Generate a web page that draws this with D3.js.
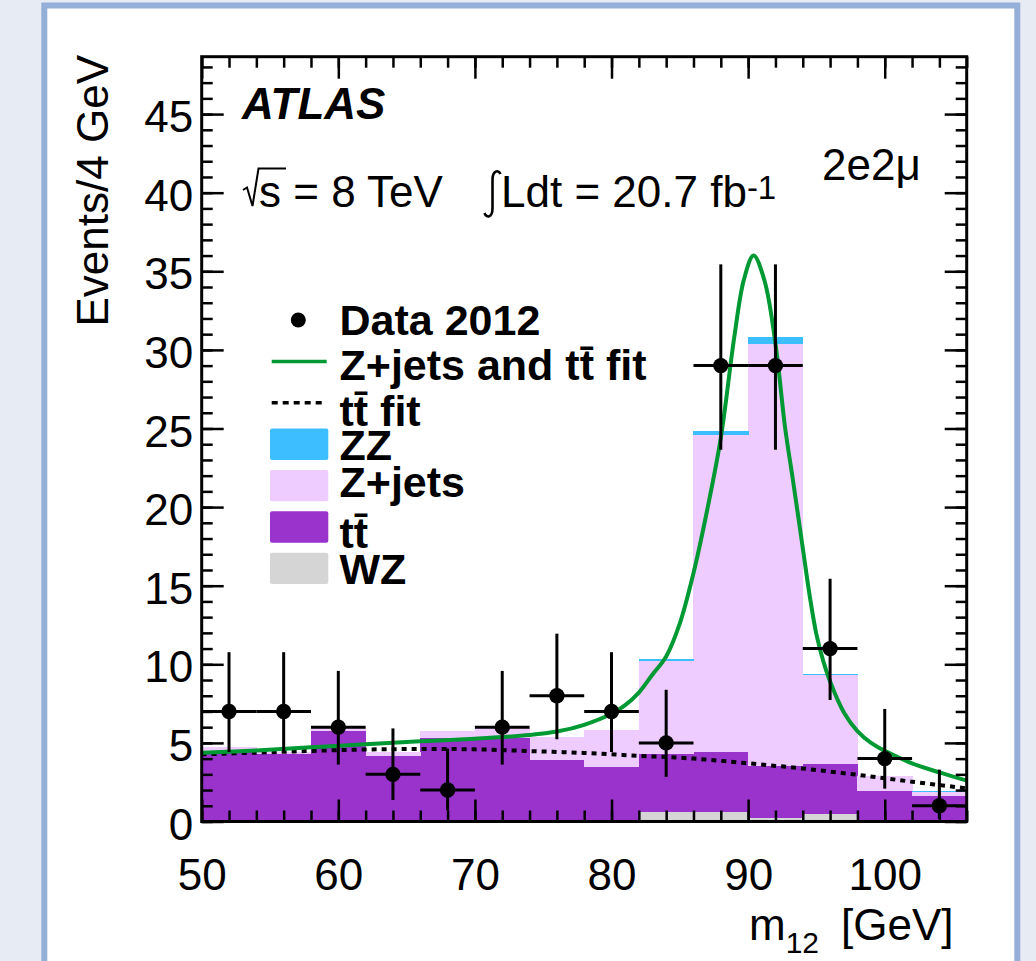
<!DOCTYPE html>
<html><head><meta charset="utf-8">
<script src="https://cdn.jsdelivr.net/npm/d3@7"></script>
<style>
html,body{margin:0;padding:0;background:#e7ebf3;overflow:hidden;}
svg{display:block;}
text{font-family:"Liberation Sans",Arial,Helvetica,sans-serif;}
</style></head><body>
<svg id="c" width="1036" height="961"></svg>
<script>
// ---------------- data ----------------
const binLow = [50,54,58,62,66,70,74,78,82,86,90,94,98,102];
const binWidth = 4;
const wz    = [0,0,0,0,0,0,0,0.08,0.58,0.58,0.25,0.48,0,0];
const ttbar = [4.5,4.3,5.75,4.15,5.3,5.3,3.9,3.37,3.72,3.82,3.27,3.18,1.95,1.64];
const zjets = [0.25,0.15,0.3,0.3,0.45,0.65,1.45,2.37,5.92,20.17,26.88,5.66,0.92,0.26];
const zz    = [0,0,0,0,0,0,0,0,0.1,0.28,0.42,0.06,0.04,0.02];

const dataX = [52,56,60,64,68,72,76,80,84,88,92,96,100,104];
const dataY = [7,7,6,3,2,6,8,7,5,29,29,11,4,1];
const dataErrLow  = [2.58,2.58,2.38,1.63,1.29,2.38,2.77,2.58,2.16,5.35,5.35,3.27,1.91,0.83];
const dataErrHigh = [3.77,3.77,3.58,2.92,2.64,3.58,3.95,3.77,3.38,6.44,6.44,4.44,3.16,2.30];

const fitMass  = [50,54,58,62,66,70,74,76,78,80,81,82,83,84,85,86,87,88,89,89.7,90.4,91.2,92,92.7,93.3,94,94.5,95,95.5,96,97,98,99,100,102,104,106];
const fitTotal = [4.37,4.52,4.72,4.91,5.1,5.27,5.5,5.72,6.15,6.85,7.4,8.2,9.35,10.5,12.6,15.8,19.8,24.4,30.9,34.5,36.0,34.4,30.4,25.1,21.6,17.4,14.4,11.9,10.2,8.9,6.95,5.75,5.0,4.5,3.7,3.12,2.6];

const ttFitMass  = [50,54,58,62,66,70,74,78,82,86,90,94,98,102,106];
const ttFitValue = [4.27,4.38,4.49,4.58,4.61,4.59,4.48,4.36,4.18,4.0,3.7,3.37,2.97,2.53,2.11];

const xTickLabels = [50,60,70,80,90,100];
const yTickLabels = [0,5,10,15,20,25,30,35,40,45];

const legendLabels = ["Data 2012","Z+jets and tt\u0304 fit","tt\u0304 fit","ZZ","Z+jets","tt\u0304","WZ"];
const legendKinds  = ["marker","line","dotted","box","box","box","box"];
const legendKeys   = [null,null,null,"zz","zjets","ttbar","wz"];

// ---------------- styles ----------------
const colors = {wz:"#d5d5d5", ttbar:"#9933cc", zjets:"#eeccff", zz:"#3dbeff"};
const green = "#009933";
const FONT = 44;

const svg = d3.select("#c");
// outer panel
svg.append("rect").attr("x",44.3).attr("y",5.5).attr("width",973).attr("height",1000)
  .attr("fill","#fff").attr("stroke","#96afd8").attr("stroke-width",6);

const L=201.7, R=966.7, T=56.7, B=821.5;
const x = d3.scaleLinear().domain([50,106]).range([L,R]);
const y = d3.scaleLinear().domain([0,48.65]).range([B,T]);

svg.append("defs").append("clipPath").attr("id","plotclip")
  .append("rect").attr("x",L).attr("y",T).attr("width",R-L).attr("height",B-T);

// stacked histogram
const rows = binLow.map((b,i)=>({lo:b, wz:wz[i], ttbar:ttbar[i], zjets:zjets[i], zz:zz[i]}));
const stack = d3.stack().keys(["wz","ttbar","zjets","zz"])(rows);
const hg = svg.append("g").attr("clip-path","url(#plotclip)").attr("shape-rendering","crispEdges");
stack.forEach(layer=>{
  hg.append("g").attr("fill",colors[layer.key])
    .selectAll("rect").data(layer).join("rect")
    .attr("x",d=>x(d.data.lo)).attr("width",d=>x(d.data.lo+binWidth)-x(d.data.lo)+0.5)
    .attr("y",d=>y(d[1])).attr("height",d=>Math.max(0,y(d[0])-y(d[1])));
});

// fits
const lineGen = d3.line().x(d=>x(d[0])).y(d=>y(d[1])).curve(d3.curveCatmullRom.alpha(0.5));
const cg = svg.append("g").attr("clip-path","url(#plotclip)").attr("fill","none");
cg.append("path").attr("d",lineGen(ttFitMass.map((m,i)=>[m,ttFitValue[i]])))
  .attr("stroke","#000").attr("stroke-width",4).attr("stroke-dasharray","5,5");
cg.append("path").attr("d",lineGen(fitMass.map((m,i)=>[m,fitTotal[i]])))
  .attr("stroke",green).attr("stroke-width",4);

// axes (ticks inward)
function styleAxis(g){ g.select(".domain").remove(); g.selectAll("line").attr("stroke-width",2.5);
  g.attr("font-size",FONT).attr("font-family",'"Liberation Sans",Arial,Helvetica,sans-serif'); }
const xMinor = d3.range(50,107,2), yMinor = d3.range(0,49,1);
svg.append("g").attr("transform",`translate(0,${B})`)
  .call(d3.axisBottom(x).tickValues(xMinor).tickSizeInner(-11).tickSizeOuter(0).tickFormat("")).call(styleAxis);
svg.append("g").attr("transform",`translate(0,${B})`)
  .call(d3.axisBottom(x).tickValues(xTickLabels).tickSizeInner(-22).tickSizeOuter(0).tickPadding(37).tickFormat(d3.format("d"))).call(styleAxis);
svg.append("g").attr("transform",`translate(0,${T})`)
  .call(d3.axisTop(x).tickValues(xMinor).tickSizeInner(-11).tickSizeOuter(0).tickFormat("")).call(styleAxis);
svg.append("g").attr("transform",`translate(0,${T})`)
  .call(d3.axisTop(x).tickValues(xTickLabels).tickSizeInner(-22).tickSizeOuter(0).tickFormat("")).call(styleAxis);
svg.append("g").attr("transform",`translate(${L},0)`)
  .call(d3.axisLeft(y).tickValues(yMinor).tickSizeInner(-11).tickSizeOuter(0).tickFormat("")).call(styleAxis);
const yl = svg.append("g").attr("transform",`translate(${L},0)`)
  .call(d3.axisLeft(y).tickValues(yTickLabels).tickSizeInner(-22).tickSizeOuter(0).tickPadding(8.5).tickFormat(d3.format("d"))).call(styleAxis);
yl.selectAll("text").attr("dy","0.4em");
svg.append("g").attr("transform",`translate(${R},0)`)
  .call(d3.axisRight(y).tickValues(yMinor).tickSizeInner(-11).tickSizeOuter(0).tickFormat("")).call(styleAxis);
svg.append("g").attr("transform",`translate(${R},0)`)
  .call(d3.axisRight(y).tickValues(yTickLabels).tickSizeInner(-22).tickSizeOuter(0).tickFormat("")).call(styleAxis);

// frame
svg.append("rect").attr("x",L).attr("y",T).attr("width",R-L).attr("height",B-T)
  .attr("fill","none").attr("stroke","#000").attr("stroke-width",3);

// data points
const pts = dataX.map((m,i)=>({m, v:dataY[i], lo:dataErrLow[i], hi:dataErrHigh[i]}));
const dg = svg.append("g");
dg.selectAll("line.v").data(pts).join("line").attr("class","v")
  .attr("x1",d=>x(d.m)).attr("x2",d=>x(d.m)).attr("y1",d=>y(d.v-d.lo)).attr("y2",d=>y(d.v+d.hi))
  .attr("stroke","#000").attr("stroke-width",3);
dg.selectAll("line.h").data(pts).join("line").attr("class","h")
  .attr("x1",d=>x(d.m-binWidth/2)).attr("x2",d=>x(d.m+binWidth/2)).attr("y1",d=>y(d.v)).attr("y2",d=>y(d.v))
  .attr("stroke","#000").attr("stroke-width",3);
dg.selectAll("circle").data(pts).join("circle")
  .attr("cx",d=>x(d.m)).attr("cy",d=>y(d.v)).attr("r",7.7).attr("fill","#000");

// texts
svg.append("text").attr("x",242).attr("y",118.5).attr("font-size",FONT)
  .attr("font-weight","bold").attr("font-style","italic").text("ATLAS");
// sqrt(s)
svg.append("path").attr("d","M243,190 L247,187.5 L252.5,206 L258.5,168.5 L286,168.5")
  .attr("fill","none").attr("stroke","#000").attr("stroke-width",2);
svg.append("text").attr("x",259).attr("y",206.7).attr("font-size",FONT).text("s = 8 TeV");
// integral
svg.append("path").attr("d","M484.5,213 C486.5,218.5 492.5,218 492.5,208 L492.5,180 C492.5,170 498.5,169.5 500.5,174")
  .attr("fill","none").attr("stroke","#000").attr("stroke-width",2.6);
const lt = svg.append("text").attr("x",501).attr("y",206.7).attr("font-size",FONT);
lt.append("tspan").text("Ldt = 20.7 fb");
lt.append("tspan").attr("font-size",33).attr("dy",-8).text("-1");

svg.append("text").attr("x",822).attr("y",180).attr("font-size",FONT).text("2e2\u03bc");

// axis titles
svg.append("text").attr("transform","translate(108,55) rotate(-90)").attr("text-anchor","end")
  .attr("font-size",FONT).text("Events/4 GeV");
const xt = svg.append("text").attr("x",749).attr("y",940).attr("font-size",FONT);
xt.append("tspan").text("m");
xt.append("tspan").attr("font-size",30).attr("dy",13).text("12");
xt.append("tspan").attr("dy",-13).attr("dx",22).text("[GeV]");

// legend
const legTop = 320, legStep = 41.4, baseOff = [15,19,23,16,11,21,16];
legendLabels.forEach((lab,i)=>{
  const cy = legTop + i*legStep;
  const k = legendKinds[i];
  if(k==="marker") svg.append("circle").attr("cx",298.3).attr("cy",cy).attr("r",7.5).attr("fill","#000");
  else if(k==="line") svg.append("line").attr("x1",271.7).attr("x2",326.7).attr("y1",cy).attr("y2",cy)
      .attr("stroke",green).attr("stroke-width",3.5);
  else if(k==="dotted") svg.append("line").attr("x1",271.7).attr("x2",326.7).attr("y1",cy).attr("y2",cy)
      .attr("stroke","#000").attr("stroke-width",3.5).attr("stroke-dasharray","6,5");
  else svg.append("rect").attr("x",270).attr("y",cy-15.7).attr("width",58.3).attr("height",31.4)
      .attr("rx",2).attr("fill",colors[legendKeys[i]]);
  svg.append("text").attr("x",339.5).attr("y",cy+baseOff[i]).attr("font-size",43)
    .attr("font-weight","bold").text(lab);
});
</script>
</body></html>
